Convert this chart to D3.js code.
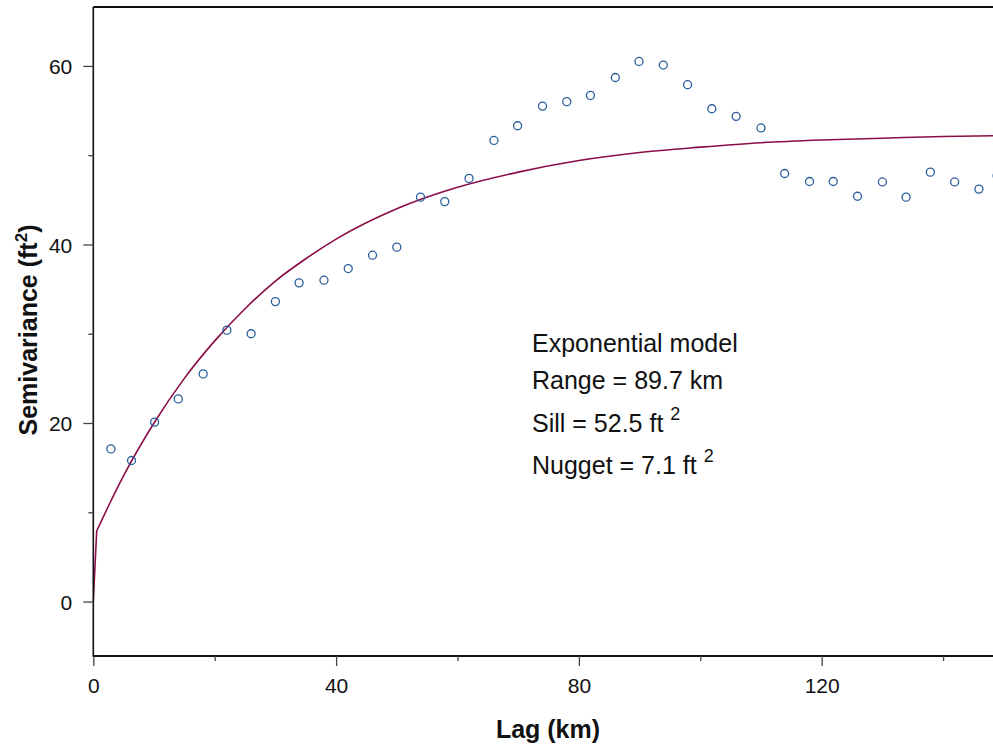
<!DOCTYPE html>
<html>
<head>
<meta charset="utf-8">
<script src="https://cdn.jsdelivr.net/npm/d3@7"></script>
<style>
  html, body { margin: 0; padding: 0; background: #fff; }
  svg { display: block; font-family: "Liberation Sans", Arial, sans-serif; }
</style>
</head>
<body>
<svg id="chart" width="993" height="746"></svg>
<script>
// ---- data ----
const lags = [2.9, 6.3, 10.1, 14.0, 18.1, 22.0, 26.0, 30.0, 33.9, 38.0, 42.0, 46.0, 50.0, 53.9, 57.9, 61.9,
  66.0, 69.9, 74.0, 78.0, 81.9, 86.0, 89.9, 93.9, 97.9, 101.9, 105.9, 110.0, 113.9, 118.0, 121.9, 125.9,
  130.0, 133.9, 137.9, 141.9, 145.9, 148.9];
const semivariance = [17.1, 15.8, 20.1, 22.7, 25.5, 30.4, 30.0, 33.6, 35.7, 36.0, 37.3, 38.8, 39.7, 45.3, 44.8, 47.4,
  51.65, 53.3, 55.5, 56.0, 56.7, 58.7, 60.5, 60.1, 57.9, 55.2, 54.35, 53.05, 47.95, 47.05, 47.05, 45.4,
  47.0, 45.3, 48.1, 47.0, 46.2, 47.7];
// fitted model line: the jump from 0 to the nugget, then the smooth part
const modelJumpLags = [0, 0.56];
const modelJumpValues = [0, 7.9];
const modelLags = [0.56, 2.5, 5, 10, 15, 20, 25, 30, 35, 40, 50, 60, 70, 80, 90, 100, 110, 120, 130, 140, 150];
const modelValues = [7.9, 10.7, 14.1, 20.0, 25.0, 29.2, 32.8, 35.9, 38.4, 40.6, 44.0, 46.4, 48.1, 49.4, 50.3,
  50.9, 51.4, 51.7, 51.9, 52.1, 52.2];
const xMajorTicks = [0, 40, 80, 120];
const xMinorTicks = [20, 60, 100, 140];
const yMajorTicks = [0, 20, 40, 60];
const yMinorTicks = [10, 30, 50];
const annotation = [
  { text: "Exponential model", sup: null },
  { text: "Range = 89.7 km", sup: null },
  { text: "Sill = 52.5 ft ", sup: "2" },
  { text: "Nugget = 7.1 ft ", sup: "2" }
];

// ---- layout ----
const W = 993, H = 746;
const mLeft = 93.3, mTop = 7, mBottom = 656, mRight = 993;
const svg = d3.select("#chart");

const x = d3.scaleLinear().domain([0, 150]).range([mLeft, mLeft + 150 * 6.07]);
const y = d3.scaleLinear().domain([-6.1, 66.6]).range([mBottom, mTop]);

svg.append("defs").append("clipPath").attr("id", "clip")
  .append("rect").attr("x", mLeft).attr("y", mTop).attr("width", mRight - mLeft).attr("height", mBottom - mTop);

const plot = svg.append("g").attr("clip-path", "url(#clip)");

// model line
const jumpLine = d3.line()
  .x((d, i) => x(modelJumpLags[i]))
  .y(d => y(d));
const line = d3.line()
  .x((d, i) => x(modelLags[i]))
  .y(d => y(d))
  .curve(d3.curveMonotoneX);
plot.append("path")
  .attr("d", jumpLine(modelJumpValues) + line(modelValues).replace(/^M/, "L"))
  .attr("fill", "none")
  .attr("stroke", "#8a0c48")
  .attr("stroke-width", 1.6)
  .attr("stroke-linejoin", "round");

// points
plot.selectAll("circle.pt").data(semivariance).join("circle")
  .attr("class", "pt")
  .attr("cx", (d, i) => x(lags[i]))
  .attr("cy", d => y(d))
  .attr("r", 4)
  .attr("fill", "none")
  .attr("stroke", "#2a5d9b")
  .attr("stroke-width", 1.3);

// frame lines
svg.append("line").attr("x1", mLeft).attr("x2", mRight).attr("y1", mTop).attr("y2", mTop)
  .attr("stroke", "#111").attr("stroke-width", 1.8);
svg.append("line").attr("x1", mLeft).attr("x2", mLeft).attr("y1", mTop).attr("y2", mBottom)
  .attr("stroke", "#111").attr("stroke-width", 1.6);
svg.append("line").attr("x1", mLeft - 0.8).attr("x2", mRight).attr("y1", mBottom).attr("y2", mBottom)
  .attr("stroke", "#111").attr("stroke-width", 2);

// y axis ticks
const yAxisMajor = d3.axisLeft(y).tickValues(yMajorTicks).tickSize(10).tickPadding(11).tickFormat(d3.format("d"));
const gy = svg.append("g").attr("transform", `translate(${mLeft},0)`).call(yAxisMajor);
gy.select(".domain").remove();
gy.selectAll(".tick line").attr("stroke", "#444").attr("stroke-width", 1.3);
gy.selectAll(".tick text").attr("font-size", 21).attr("fill", "#111")
  .attr("font-family", "'Liberation Sans', Arial, sans-serif").attr("dy", "0.36em");
const gy2 = svg.append("g").attr("transform", `translate(${mLeft},0)`)
  .call(d3.axisLeft(y).tickValues(yMinorTicks).tickSize(5).tickFormat(""));
gy2.select(".domain").remove();
gy2.selectAll(".tick line").attr("stroke", "#444").attr("stroke-width", 1.3);

// x axis ticks
const gx = svg.append("g").attr("transform", `translate(0,${mBottom})`)
  .call(d3.axisBottom(x).tickValues(xMajorTicks).tickSize(10).tickPadding(12).tickFormat(d3.format("d")));
gx.select(".domain").remove();
gx.selectAll(".tick line").attr("stroke", "#444").attr("stroke-width", 1.3);
gx.selectAll(".tick text").attr("font-size", 21).attr("fill", "#111")
  .attr("font-family", "'Liberation Sans', Arial, sans-serif");
const gx2 = svg.append("g").attr("transform", `translate(0,${mBottom})`)
  .call(d3.axisBottom(x).tickValues(xMinorTicks).tickSize(5).tickFormat(""));
gx2.select(".domain").remove();
gx2.selectAll(".tick line").attr("stroke", "#444").attr("stroke-width", 1.3);

// axis titles
svg.append("text")
  .attr("x", 548).attr("y", 738)
  .attr("text-anchor", "middle")
  .attr("font-size", 25).attr("font-weight", "bold").attr("fill", "#111")
  .text("Lag (km)");

const yt = svg.append("text")
  .attr("transform", "translate(37,330) rotate(-90)")
  .attr("text-anchor", "middle")
  .attr("font-size", 25).attr("font-weight", "bold").attr("fill", "#111");
yt.append("tspan").text("Semivariance (ft");
yt.append("tspan").attr("font-size", 17).attr("dy", -10).text("2");
yt.append("tspan").attr("dy", 10).text(")");

// annotation
const baselines = [352, 389, 431.5, 473.5];
annotation.forEach((a, i) => {
  const t = svg.append("text").attr("x", 532).attr("y", baselines[i])
    .attr("font-size", 25).attr("fill", "#111");
  t.append("tspan").text(a.text);
  if (a.sup) t.append("tspan").attr("font-size", 18).attr("dy", -12).text(a.sup);
});
</script>
</body>
</html>
